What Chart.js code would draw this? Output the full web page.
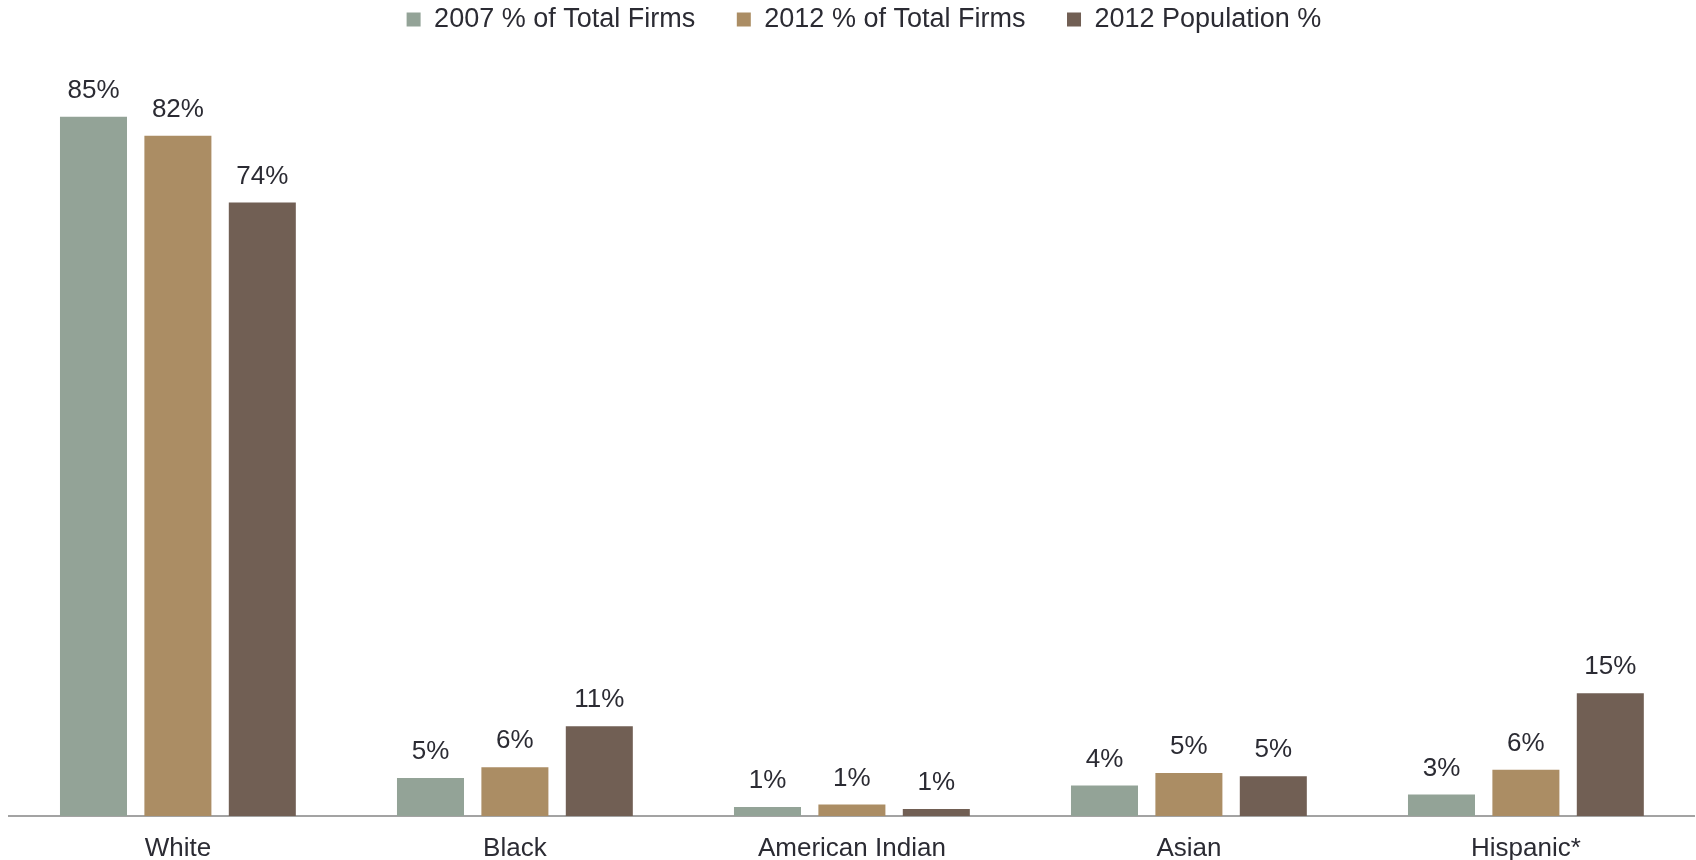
<!DOCTYPE html>
<html>
<head>
<meta charset="utf-8">
<script src="https://cdn.jsdelivr.net/npm/chart.js@4"></script>
<style>
  html, body { margin: 0; padding: 0; background: #fff; }
  #wrap { width: 1696px; height: 860px; position: relative; }
</style>
</head>
<body>
<div id="wrap"><canvas id="firmsChart"></canvas></div>
<script>
// --- DATA ---
const categories = ['White', 'Black', 'American Indian', 'Asian', 'Hispanic*'];
const seriesNames = ['2007 % of Total Firms', '2012 % of Total Firms', '2012 Population %'];
const firms2007 = [84.6, 4.6, 1.1, 3.7, 2.6];
const firms2012 = [82.3, 5.9, 1.4, 5.2, 5.6];
const population2012 = [74.2, 10.85, 0.85, 4.8, 14.85];

const colors = ['#93a397', '#ab8d64', '#715f54'];
const textColor = '#2b2b33';
const fontFamily = "'Liberation Sans', Arial, sans-serif";

// --- DATA LABELS ---
const valueLabels = {
    id: 'valueLabels',
    afterDatasetsDraw(chart) {
        const ctx = chart.ctx;
        ctx.save();
        ctx.font = "26px " + fontFamily;
        ctx.fillStyle = textColor;
        ctx.textAlign = 'center';
        ctx.textBaseline = 'middle';
        chart.data.datasets.forEach((ds, i) => {
            const meta = chart.getDatasetMeta(i);
            meta.data.forEach((bar, j) => {
                ctx.fillText(Math.round(ds.data[j]) + '%', bar.x, bar.y - 26);
            });
        });
        ctx.restore();
    }
};

// fixed legend height so the plot top stays put, and nudge it a bit right
const legendBox = {
    id: 'legendBox',
    beforeInit(chart) {
        const fit = chart.legend.fit;
        chart.legend.fit = function () {
            fit.bind(chart.legend)();
            this.height = 107.6;
        };
    },
    afterLayout(chart) {
        chart.legend.left += 12;
        chart.legend.right += 12;
    }
};

const ctx = document.getElementById('firmsChart').getContext('2d');
new Chart(ctx, {
    type: 'bar',
    data: {
        labels: categories,
        datasets: [firms2007, firms2012, population2012].map((d, i) => ({
            label: seriesNames[i],
            data: d,
            backgroundColor: colors[i],
            borderWidth: 0,
            categoryPercentage: 0.7514,
            barPercentage: 0.794
        }))
    },
    options: {
        responsive: true,
        maintainAspectRatio: false,
        animation: false,
        layout: { padding: { top: -35.6, left: 9.4, right: 1.6, bottom: 0 } },
        plugins: {
            tooltip: { enabled: false },
            legend: {
                position: 'top',
                labels: {
                    color: textColor,
                    font: { family: fontFamily, size: 27 },
                    boxWidth: 14,
                    boxHeight: 14,
                    padding: 41.6
                }
            }
        },
        scales: {
            x: {
                grid: { display: false },
                border: { display: true, color: '#a3a3a3', width: 2 },
                ticks: {
                    color: textColor,
                    font: { family: fontFamily, size: 26 },
                    padding: 9,
                    maxRotation: 0
                },
                afterFit(scale) { scale.height = 44; }
            },
            y: {
                display: false,
                min: 0,
                max: 90
            }
        }
    },
    plugins: [valueLabels, legendBox]
});
</script>
</body>
</html>
